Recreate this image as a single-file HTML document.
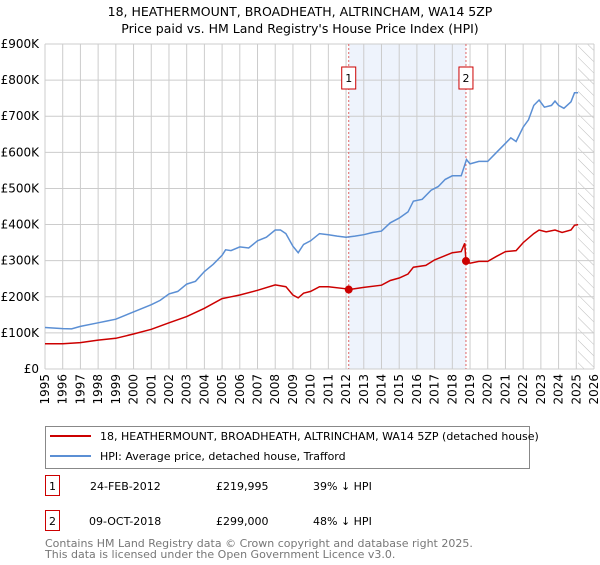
<!DOCTYPE html>
<html><head><meta charset="utf-8"><style>
body{margin:0;background:#fff;font-family:"Liberation Sans","DejaVu Sans",sans-serif;}
svg text{font-family:"DejaVu Sans","Liberation Sans",sans-serif;}
</style></head><body>
<svg id="chart" width="600" height="560" viewBox="0 0 600 560">
<text x="300" y="16" text-anchor="middle" font-size="12.5">18, HEATHERMOUNT, BROADHEATH, ALTRINCHAM, WA14 5ZP</text>
<text x="300" y="33" text-anchor="middle" font-size="12.5">Price paid vs. HM Land Registry's House Price Index (HPI)</text>
<g id="plot"></g>
<g>
<rect x="45.5" y="426.5" width="484" height="42" fill="#fff" stroke="#888"/>
<line x1="50" y1="436" x2="91" y2="436" stroke="#cc0000" stroke-width="2"/>
<text x="100" y="440" font-size="11">18, HEATHERMOUNT, BROADHEATH, ALTRINCHAM, WA14 5ZP (detached house)</text>
<line x1="50" y1="456" x2="91" y2="456" stroke="#5b8fd4" stroke-width="2"/>
<text x="100" y="460" font-size="11">HPI: Average price, detached house, Trafford</text>
</g>
<g font-size="11">
<rect x="45.5" y="475.5" width="14" height="20" fill="#fff" stroke="#cc0000"/>
<text x="52.5" y="490" text-anchor="middle">1</text>
<text x="90" y="490">24-FEB-2012</text><text x="216" y="490">£219,995</text><text x="313" y="490">39% ↓ HPI</text>
<rect x="45.5" y="510.5" width="14" height="20" fill="#fff" stroke="#cc0000"/>
<text x="52.5" y="525" text-anchor="middle">2</text>
<text x="89" y="525">09-OCT-2018</text><text x="216" y="525">£299,000</text><text x="313" y="525">48% ↓ HPI</text>
</g>
<text x="45" y="547" font-size="11" fill="#777">Contains HM Land Registry data © Crown copyright and database right 2025.</text>
<text x="45" y="558" font-size="11" fill="#777">This data is licensed under the Open Government Licence v3.0.</text>
</svg>
<script>
const yearTicks=[1995,1996,1997,1998,1999,2000,2001,2002,2003,2004,2005,2006,2007,2008,2009,2010,2011,2012,2013,2014,2015,2016,2017,2018,2019,2020,2021,2022,2023,2024,2025,2026];
const valueTicks=[0,100,200,300,400,500,600,700,800,900];
const valueLabels=["£0","£100K","£200K","£300K","£400K","£500K","£600K","£700K","£800K","£900K"];
const hpiT=[1995,1996,1996.5,1997,1998,1998.5,1999,2000,2001,2001.5,2002,2002.5,2003,2003.5,2004,2004.5,2005,2005.2,2005.5,2006,2006.5,2007,2007.5,2008,2008.3,2008.6,2009,2009.3,2009.6,2010,2010.5,2011,2011.5,2012,2012.5,2013,2013.5,2014,2014.5,2015,2015.5,2015.8,2016.3,2016.8,2017.2,2017.6,2018,2018.5,2018.8,2019,2019.5,2020,2020.5,2021,2021.3,2021.6,2022,2022.3,2022.6,2022.9,2023.2,2023.6,2023.8,2024,2024.3,2024.7,2024.9,2025.1];
const hpiV=[115,112,111,118,128,133,138,158,178,190,208,215,235,243,270,290,315,330,328,338,335,355,365,385,385,375,340,322,345,355,375,372,368,365,368,372,378,382,405,418,435,465,470,495,505,525,535,535,580,568,575,575,600,625,640,630,670,690,730,745,725,730,742,730,722,740,765,765];
const propT=[1995,1996,1997,1998,1999,2000,2001,2002,2003,2004,2005,2005.5,2006,2007,2008,2008.6,2009,2009.3,2009.6,2010,2010.5,2011,2012,2012.15,2013,2014,2014.5,2015,2015.5,2015.8,2016.5,2017,2017.5,2018,2018.5,2018.7,2018.77,2019,2019.5,2020,2020.5,2021,2021.6,2022,2022.6,2022.9,2023.3,2023.8,2024.2,2024.7,2024.9,2025.1];
const propV=[70,70,73,80,85,97,110,128,145,168,195,200,205,218,233,228,205,197,210,215,228,228,222,220,226,232,245,252,263,282,287,302,312,322,325,348,299,293,298,298,312,325,328,350,375,385,380,385,378,385,398,400];
const saleT=[2012.15,2018.77];
const saleV=[219.995,299];
const saleLabels=["1","2"];
const X0=45,X1=594,Y0=369,Y1=44;
const x=t=>X0+(t-1995)/(2026-1995)*(X1-X0);
const y=v=>Y0-v/900*(Y0-Y1);
const NS="http://www.w3.org/2000/svg";
const g=document.getElementById('plot');
function mk(tag,a){const e=document.createElementNS(NS,tag);for(const k in a)e.setAttribute(k,a[k]);g.appendChild(e);return e;}
let e=mk('rect',{x:x(saleT[0]),y:Y1,width:x(saleT[1])-x(saleT[0]),height:Y0-Y1,fill:'#eef3fc'});


const defs=mk('defs',{});
defs.innerHTML='<pattern id="hat" width="8" height="8" patternUnits="userSpaceOnUse" patternTransform="rotate(-45)"><line x1="0" y1="0" x2="0" y2="8" stroke="#bbb" stroke-width="1"/></pattern>';
e=mk('rect',{x:x(2025.1),y:Y1,width:X1-x(2025.1),height:Y0-Y1,fill:'url(#hat)'});


yearTicks.forEach(t=>{
 const l=mk('line',{x1:x(t),x2:x(t),y1:Y1,y2:Y0,stroke:'#ccc'});
 
 
 const tx=mk('text',{x:0,y:0,'font-size':'12',transform:`translate(${x(t)+4},${Y0+5}) rotate(-90)`,'text-anchor':'end'});
 tx.textContent=t;
 
 
});
valueTicks.forEach((v,i)=>{
 const l=mk('line',{x1:X0,x2:X1,y1:y(v),y2:y(v),stroke:'#ccc'});
 
 
 const tx=mk('text',{x:X0-6,y:y(v)+4,'font-size':'12','text-anchor':'end'});
 tx.textContent=valueLabels[i];
 
 
});
saleT.forEach((t,i)=>{
 const l=mk('line',{x1:x(t),x2:x(t),y1:Y1,y2:Y0,stroke:'#e06666','stroke-dasharray':'2,2'});
 
 
 const r=mk('rect',{x:x(t)-7,y:67,width:14,height:22,fill:'#fff',stroke:'#cc0000'});
 
 
 const tx=mk('text',{x:x(t),y:82,'font-size':'11','text-anchor':'middle'});
 tx.textContent=saleLabels[i];
 
 
});
let p=mk('path',{d:hpiT.map((t,i)=>(i?'L':'M')+x(t).toFixed(1)+','+y(hpiV[i]).toFixed(1)).join(''),fill:'none',stroke:'#5b8fd4','stroke-width':1.5});


p=mk('path',{d:propT.map((t,i)=>(i?'L':'M')+x(t).toFixed(1)+','+y(propV[i]).toFixed(1)).join(''),fill:'none',stroke:'#cc0000','stroke-width':1.5});


saleT.forEach((t,i)=>{
 const c=mk('circle',{cx:x(t),cy:y(saleV[i]),r:4,fill:'#cc0000'});
 
 
});
</script>
</body></html>
